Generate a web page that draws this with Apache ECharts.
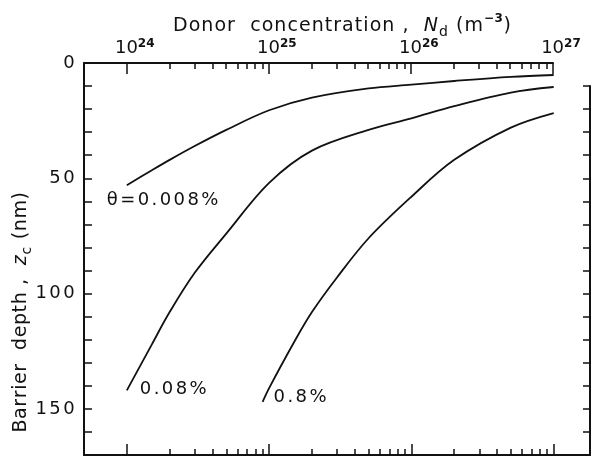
<!DOCTYPE html>
<html>
<head>
<meta charset="utf-8">
<script src="https://cdn.jsdelivr.net/npm/echarts@6/dist/echarts.min.js"></script>
<style>
  html, body { margin: 0; padding: 0; background: #fff; }
  #chart { width: 596px; height: 461px; }
</style>
</head>
<body>
<div id="chart"></div>
<script>
// Barrier depth z_c (nm) against donor concentration N_d (m^-3) for three coverages θ

// θ = 0.008 %
const nd0008 = [1e24, 1.5e24, 2e24, 3e24, 5e24, 1e25, 2e25, 5e25, 1e26, 2e26, 5e26, 1e27];
const depth0008 = [53, 46.5, 42, 36, 29, 20.5, 15, 11, 9.4, 7.8, 6, 5.2];

// θ = 0.08 %
const nd008 = [1e24, 1.5e24, 2e24, 3e24, 5e24, 1e25, 2e25, 5e25, 1e26, 2e26, 5e26, 1e27];
const depth008 = [142, 122, 108, 91, 74, 52, 38, 29, 24, 18.7, 12.8, 10.4];

// θ = 0.8 %
const nd08 = [9e24, 1e25, 1.5e25, 2e25, 3e25, 5e25, 1e26, 2e26, 5e26, 1e27];
const depth08 = [147, 141, 121, 108, 93, 76, 58, 42, 28, 21.7];

const curveNames = ['θ=0.008%', '0.08%', '0.8%'];

// axis ticks
const majorDecades = [1e24, 1e25, 1e26, 1e27];
const minorMantissas = [2, 3, 4, 5, 6, 7, 8, 9];
const depthLabels = [0, 50, 100, 150];
const depthTicks = [0, 10, 20, 30, 40, 50, 60, 70, 80, 90, 100, 110, 120, 130, 140, 150, 160, 170];
const rightTicks = [10, 20, 30, 40, 50, 60, 70, 80, 90, 100, 110, 120, 130, 140, 150, 160];

const minorDecadeTicks = [];
[1e24, 1e25, 1e26].forEach(function (d) {
  minorMantissas.forEach(function (m) { minorDecadeTicks.push(m * d); });
});

const FONT = 'DejaVu Sans';
const INK = '#111';

// wide plotter-style lettering: every character is its own rich-text token with trailing gap
function spaced(text, key) {
  return Array.from(String(text)).map(function (ch) {
    return '{' + key + '|' + ch + '}';
  }).join('');
}

function textStyle(size, gap, extra) {
  return Object.assign({
    fontFamily: FONT, fontSize: size, fontWeight: 'normal', color: INK,
    padding: [0, gap, 0, 0]
  }, extra || {});
}

function pairs(xs, ys) {
  return xs.map(function (x, i) { return [x, ys[i]]; });
}

function curve(xs, ys, name, offset) {
  const data = pairs(xs, ys);
  data[0] = {
    value: data[0],
    label: {
      show: true,
      formatter: spaced(name, 'c'),
      position: 'right',
      distance: 0,
      offset: offset,
      rich: { c: textStyle(18, 2.4) }
    }
  };
  return {
    type: 'line',
    name: name,
    xAxisIndex: 0,
    yAxisIndex: 0,
    data: data,
    smooth: 0.35,
    symbol: 'circle',
    symbolSize: 0,
    showSymbol: true,
    silent: true,
    emphasis: { disabled: true },
    lineStyle: { color: INK, width: 1.8 },
    itemStyle: { color: INK }
  };
}

const frameLine = { show: true, onZero: false, lineStyle: { color: INK, width: 2 } };
const noLine = { show: false, onZero: false };

function logAxis(extra) {
  return Object.assign({
    type: 'log',
    logBase: 10,
    min: 5e23,
    splitLine: { show: false },
    axisLabel: { show: false }
  }, extra);
}

function captionRich(gap) {
  return {
    t: textStyle(19, gap, { lineHeight: 26 }),
    i: textStyle(19, gap, { lineHeight: 26, fontStyle: 'italic' }),
    sub: textStyle(14, 1, { lineHeight: 14, verticalAlign: 'bottom' }),
    sup: textStyle(12, 0.5, { lineHeight: 12, verticalAlign: 'top', fontWeight: 'bold' })
  };
}

const option = {
  backgroundColor: '#fff',
  animation: false,
  textStyle: { fontFamily: FONT, color: INK },
  title: {
    text: spaced('Donor  concentration ,  ', 't') + spaced('N', 'i') + spaced('d', 'sub') +
      spaced(' (m', 't') + spaced('−3', 'sup') + spaced(')', 't'),
    left: 168,
    top: 8,
    textStyle: { fontWeight: 'normal', rich: captionRich(1.05) }
  },
  grid: [
    { left: 84, top: 63, width: 506, height: 392, containLabel: false, outerBoundsMode: 'none' },
    { left: 84, top: 63, width: 469, height: 392, containLabel: false, outerBoundsMode: 'none' },
    { left: 84, top: 63 + 392 * 10 / 170, width: 506, height: 392 * 160 / 170, containLabel: false, outerBoundsMode: 'none' }
  ],
  xAxis: [
    // bottom edge, decade ticks
    logAxis({
      gridIndex: 0, position: 'bottom', max: 1.8e27,
      axisLine: frameLine,
      axisTick: { show: true, inside: true, length: 11, customValues: majorDecades, lineStyle: { color: INK, width: 1.5 } }
    }),
    // bottom edge, minor ticks
    logAxis({
      gridIndex: 0, position: 'bottom', max: 1.8e27,
      axisLine: noLine,
      axisTick: { show: true, inside: true, length: 6, customValues: minorDecadeTicks, lineStyle: { color: INK, width: 1.5 } }
    }),
    // top edge, decade ticks and labels
    logAxis({
      gridIndex: 1, position: 'top', max: 1.0005e27,
      axisLine: frameLine,
      axisTick: { show: true, inside: true, length: 11, customValues: majorDecades, lineStyle: { color: INK, width: 1.5 } },
      axisLabel: {
        show: true,
        customValues: majorDecades,
        margin: 5,
        hideOverlap: false,
        showMinLabel: true,
        showMaxLabel: true,
        formatter: function (v) {
          return '{b|10}{s|' + Math.round(Math.log10(v)) + '}';
        },
        rich: {
          b: { fontFamily: FONT, fontSize: 18, color: INK, lineHeight: 20, padding: [0, 0, 0, 16] },
          s: { fontFamily: FONT, fontSize: 12, fontWeight: 'bold', color: INK, lineHeight: 12, verticalAlign: 'top' }
        }
      }
    }),
    // top edge, minor ticks
    logAxis({
      gridIndex: 1, position: 'top', max: 1.0005e27,
      axisLine: noLine,
      axisTick: { show: true, inside: true, length: 6, customValues: minorDecadeTicks, lineStyle: { color: INK, width: 1.5 } }
    }),
    logAxis({ gridIndex: 2, max: 1.8e27, show: false, axisLine: noLine })
  ],
  yAxis: [
    {
      gridIndex: 0,
      type: 'value',
      position: 'left',
      inverse: true,
      min: 0,
      max: 170,
      splitLine: { show: false },
      axisLine: frameLine,
      axisTick: { show: true, inside: true, length: 8, customValues: depthTicks, lineStyle: { color: INK, width: 1.5 } },
      axisLabel: {
        show: true,
        customValues: depthLabels,
        margin: 7,
        hideOverlap: false,
        formatter: function (v) { return spaced(v, 'n'); },
        rich: { n: textStyle(18, 2.4) }
      },
      name: spaced('Barrier  depth ,  ', 't') + spaced('z', 'i') + spaced('c', 'sub') + spaced(' (nm)', 't'),
      nameLocation: 'middle',
      nameRotate: 90,
      nameGap: 50,
      nameMoveOverlap: false,
      nameTextStyle: { padding: [0, 106, 0, 0], rich: captionRich(0.6) }
    },
    { gridIndex: 1, type: 'value', inverse: true, min: 0, max: 170, show: false, axisLine: noLine },
    {
      gridIndex: 2,
      type: 'value',
      position: 'right',
      inverse: true,
      min: 10,
      max: 170,
      splitLine: { show: false },
      axisLine: frameLine,
      axisLabel: { show: false },
      axisTick: { show: true, inside: true, length: 7, customValues: rightTicks, lineStyle: { color: INK, width: 1.5 } }
    }
  ],
  series: [
    curve(nd0008, depth0008, curveNames[0], [-20, 15]),
    curve(nd008, depth008, curveNames[1], [13, -1]),
    curve(nd08, depth08, curveNames[2], [11, -5])
  ]
};

const chart = echarts.init(document.getElementById('chart'), null, { renderer: 'canvas' });
chart.setOption(option);
</script>
</body>
</html>
